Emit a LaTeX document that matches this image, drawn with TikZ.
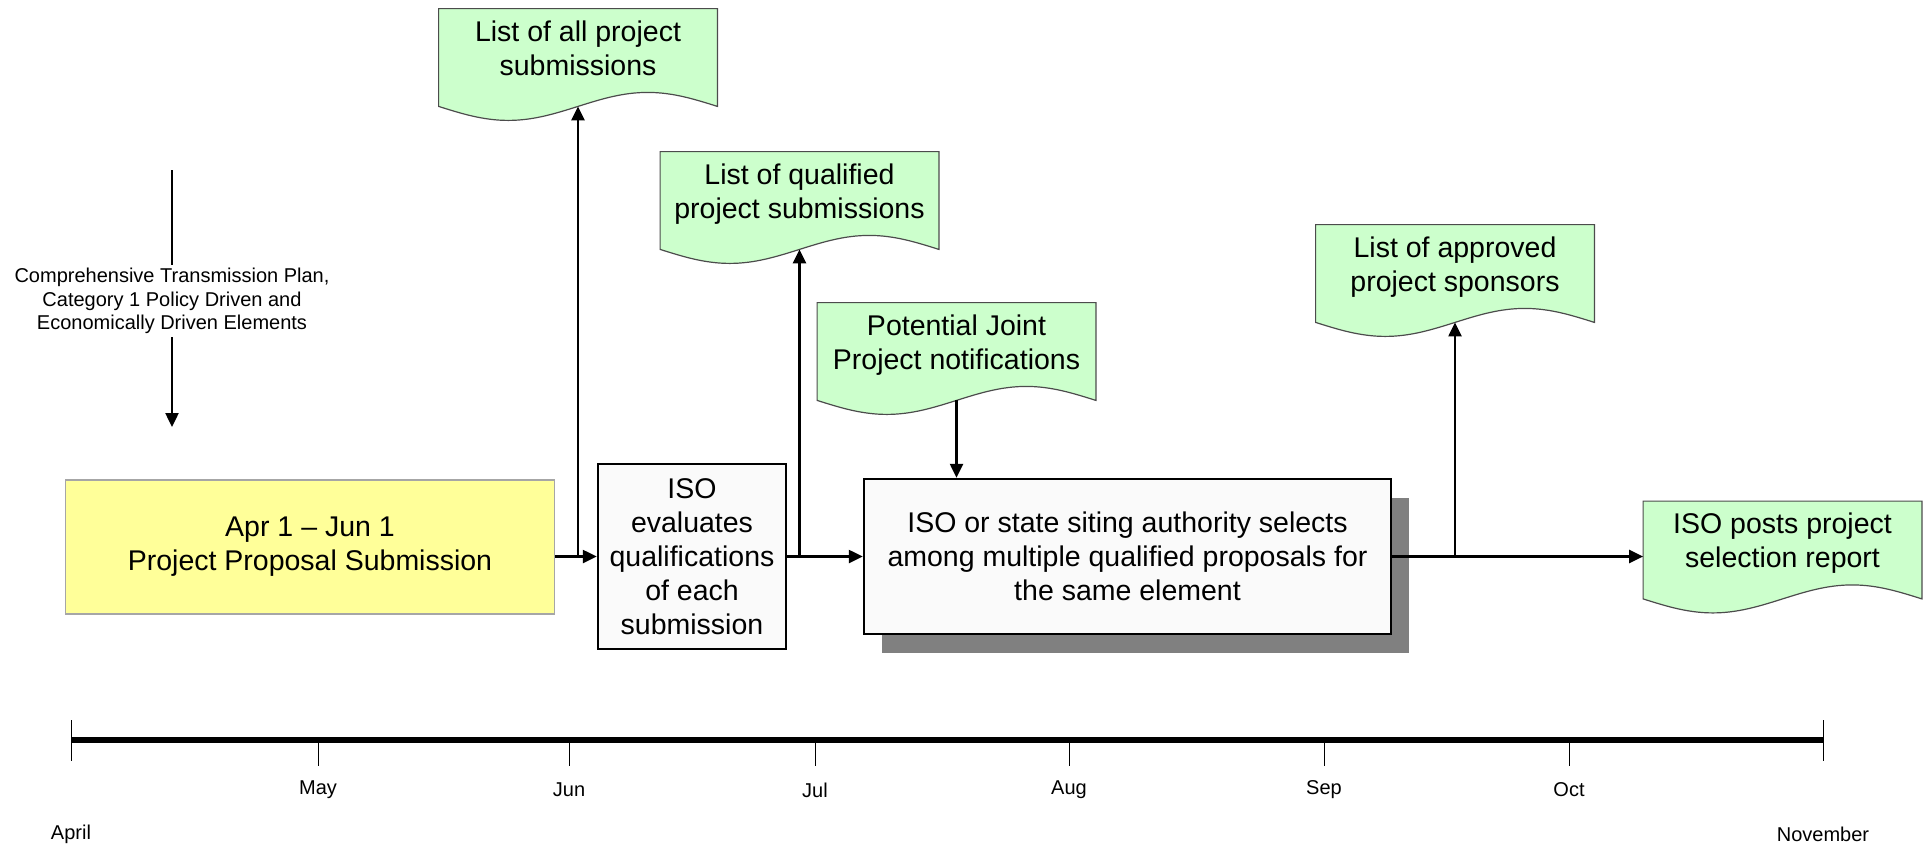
\documentclass[tikz,border=0pt]{standalone}
\usepackage{fontspec}
\setmainfont{Liberation Sans}
\usetikzlibrary{arrows.meta,positioning,shadows,backgrounds,calc}
\definecolor{docgreen}{HTML}{CCFFCC}
\definecolor{subyellow}{HTML}{FFFF99}
\definecolor{taskgray}{HTML}{FAFAFA}
\newcommand{\bigtext}{\fontsize{14.25}{17}\selectfont}
\newcommand{\smalltext}{\fontsize{10}{11.75}\selectfont}
% paper-with-wavy-bottom outline behind a doc node
\newcommand{\wavedoc}[1]{%
  \path[doc shape] let \p1=(#1.south west), \p2=(#1.south east), \n1={(\x2-\x1)/4} in
    (#1.north west) -- (\p1) sin ++({\n1*1pt},-7pt) cos ++({\n1*1pt},7pt)
    sin ++({\n1*1pt},7pt) cos ++({\n1*1pt},-7pt) -- (#1.north east) -- cycle;}

\begin{document}
\begin{tikzpicture}[x=0.5pt, y=-0.5pt,
  link/.style={line width=1.2pt, -{Triangle[length=7pt,width=6.5pt]}},
  task node/.style={draw, line width=1.2pt, fill=taskgray, align=center, inner sep=2pt, font=\bigtext},
  doc node/.style={minimum width=139pt, minimum height=48.5pt, inner sep=0pt, align=center, font=\bigtext, text depth=9.5pt},
  doc shape/.style={fill=docgreen, draw=black!70, line width=0.6pt},
  month label/.style={font=\smalltext, inner sep=1pt}]
\useasboundingbox (0,0) rectangle (1931,843);

% process boxes
\node[draw=black!35, line width=0.8pt, fill=subyellow, align=center, font=\bigtext,
  minimum width=244.5pt, minimum height=67pt] (submit) at (310,547) {Apr 1 – Jun 1\\Project Proposal Submission};
\node[task node, minimum width=94pt, minimum height=92.5pt] (evaluate) at (692,556.5)
  {ISO\\evaluates\\qualifications\\of each\\submission};
\node[task node, minimum width=263.5pt, minimum height=77.5pt,
  drop shadow={shadow xshift=9pt, shadow yshift=-9.5pt, fill=black!50, opacity=1}] (select) at (1127.5,556.5)
  {ISO or state siting authority selects\\among multiple qualified proposals for\\the same element};

% documents
\node[doc node] (allsub) at (578,57.5) {List of all project\\submissions};
\node[doc node] (qualsub) at (799.5,200.5) {List of qualified\\project submissions};
\node[doc node] (jointnote) at (956.5,351.5) {Potential Joint\\Project notifications};
\node[doc node] (sponsors) at (1455,273.5) {List of approved\\project sponsors};
\node[doc node] (report) at (1782.5,550) {ISO posts project\\selection report};
\begin{pgfonlayer}{background}
\wavedoc{allsub}
\wavedoc{qualsub}
\wavedoc{jointnote}
\wavedoc{sponsors}
\wavedoc{report}
\end{pgfonlayer}

% inputs on the left
\coordinate (plantop) at (172,170);
\node[font=\smalltext, align=center, inner sep=1.5pt] (plan) at (172,301)
  {Comprehensive Transmission Plan,\\Category 1 Policy Driven and\\Economically Driven Elements};
\coordinate (plantip) at (172,427);
\draw[line width=1.2pt] (plantop) -- (plan);
\draw[link] (plan) -- (plantip);

% flow
\draw[link] (submit.east |- evaluate.west) -- (evaluate.west);
\draw[link] (allsub.south |- evaluate.west) -- (allsub.south);
\draw[link] (evaluate.east) -- (select.west);
\draw[link] (qualsub.south |- evaluate.east) -- (qualsub.south);
\draw[link] (jointnote.south) -- (jointnote.south |- select.north);
\draw[link] (select.east) -- (select.east -| report.west);
\draw[link] (sponsors.south |- select.east) -- (sponsors.south);

% time line
\coordinate (apr) at (71,740);
\coordinate (nov) at (1823,740);
\draw[line width=3pt] (apr) -- (nov);
\draw[line width=0.5pt] (71,720) -- (71,761) (1823,720) -- (1823,761);
\foreach \x/\m in {318/May,569/Jun,815/Jul,1069/Aug,1324/Sep,1569/Oct} {
  \draw[line width=0.5pt] (\x,740) -- (\x,766);
  \node[month label] (m\m) at (\x,790) {\m};
}
\node[month label] (mapr) at (71,834) {April};
\node[month label] (mnov) at (1823,834) {November};
\end{tikzpicture}
\end{document}
